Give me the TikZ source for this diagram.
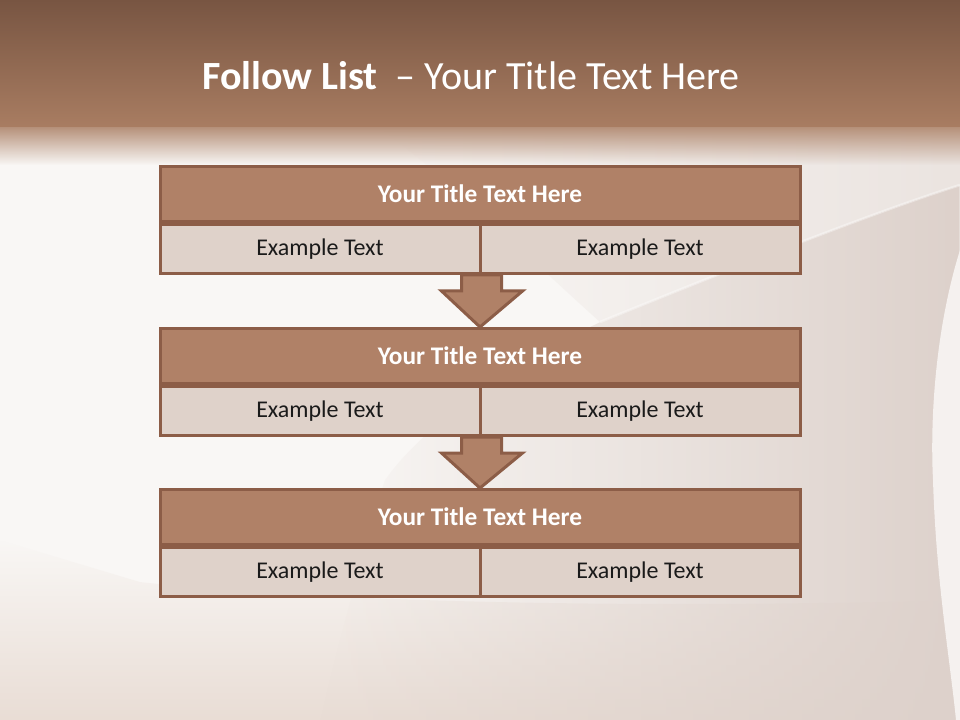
\documentclass[tikz,border=0pt]{standalone}
\usepackage{fontspec}
\setmainfont{Carlito}
\usetikzlibrary{calc,fadings}
\definecolor{hdr}{HTML}{B08167}
\definecolor{edge}{HTML}{8C5D47}
\definecolor{cell}{HTML}{DFD2CA}
\definecolor{bandtop}{HTML}{785542}
\definecolor{bandbot}{HTML}{A97D62}
\definecolor{bgL}{HTML}{F9F7F5}
\definecolor{bgR}{HTML}{DDD1CB}
\definecolor{bgpink}{HTML}{E9DDD5}
\definecolor{txt}{HTML}{1A1A1A}
\tikzfading[name=fadedown, top color=transparent!0, bottom color=transparent!100]
\tikzfading[name=fadeup, top color=transparent!100, bottom color=transparent!0]
\tikzfading[name=fadeleft, left color=transparent!100, middle color=transparent!15, right color=transparent!0]
\begin{document}
\begin{tikzpicture}[x=0.75pt,y=-0.75pt,
  hdrbox/.style={draw=edge, line width=2.25pt, fill=hdr, minimum width=480pt,
    minimum height=41.25pt, inner sep=0pt, text=white,
    font=\bfseries\fontsize{19}{22}\selectfont},
  cellbox/.style={draw=edge, line width=2.25pt, fill=cell, minimum width=240pt,
    minimum height=36.75pt, inner sep=0pt, text=txt,
    font=\fontsize{18}{21}\selectfont},
  blockarrow/.style={draw=edge, line width=2.25pt, fill=hdr, line join=miter}]
\useasboundingbox (0,0) rectangle (960,720);
% background
\fill[bgL] (0,0) rectangle (960,720);
\fill[bgpink, path fading=fadeup]
  (0,540) -- (140,582) .. controls (300,600) and (600,610) .. (960,600)
  -- (960,720) -- (0,720) -- cycle;
\fill[bgL!50!bgR, path fading=fadeleft] (380,128) -- (960,128) -- (960,185)
  .. controls (880,210) and (740,265) .. (600,322)
  .. controls (520,250) and (450,180) .. (380,128) -- cycle;
\fill[bgR, path fading=fadeleft]
  (960,185) .. controls (880,210) and (740,265) .. (600,322)
  .. controls (500,370) and (420,430) .. (385,480)
  .. controls (360,560) and (340,640) .. (320,720) -- (960,720) -- cycle;
\fill[bgL!85!bgR] (960,250) .. controls (935,330) and (930,420) .. (933,480)
  .. controls (936,580) and (950,660) .. (956,720) -- (960,720) -- cycle;
\draw[white, opacity=0.35, line width=2pt]
  (600,322) .. controls (740,265) and (880,210) .. (960,185);
\shade[top color=bandtop, bottom color=bandbot] (0,0) rectangle (960,128);
\fill[bandbot!85!white, path fading=fadedown] (0,127) rectangle (960,165);
% title
\node[text=white, font=\fontsize{30}{36}\selectfont] (title) at (471,76)
  {\textbf{Follow List}\ \ – Your Title Text Here};
% boxes
\foreach \i/\y in {1/165,2/327,3/488}{
  \node[hdrbox, anchor=north] (h\i) at (480,\y) {Your Title Text Here};
  \node[cellbox, anchor=north west] (l\i) at (h\i.south west) {Example Text};
  \node[cellbox, anchor=north east] (r\i) at (h\i.south east) {Example Text};
}
% arrows
\foreach \a/\b in {1/2,2/3}{
  \coordinate (s\a) at ($(l\a.south east)$);
  \coordinate (t\a) at ($(h\b.north)$);
  \draw[blockarrow] ($(s\a)+(-20,0)$) -- ($(s\a)+(20,0)$) -- ($(s\a)+(20,16)$)
    -- ($(s\a)+(41,16)$) -- (t\a) -- ($(s\a)+(-40,16)$) -- ($(s\a)+(-20,16)$) -- cycle;
}
\end{tikzpicture}
\end{document}
